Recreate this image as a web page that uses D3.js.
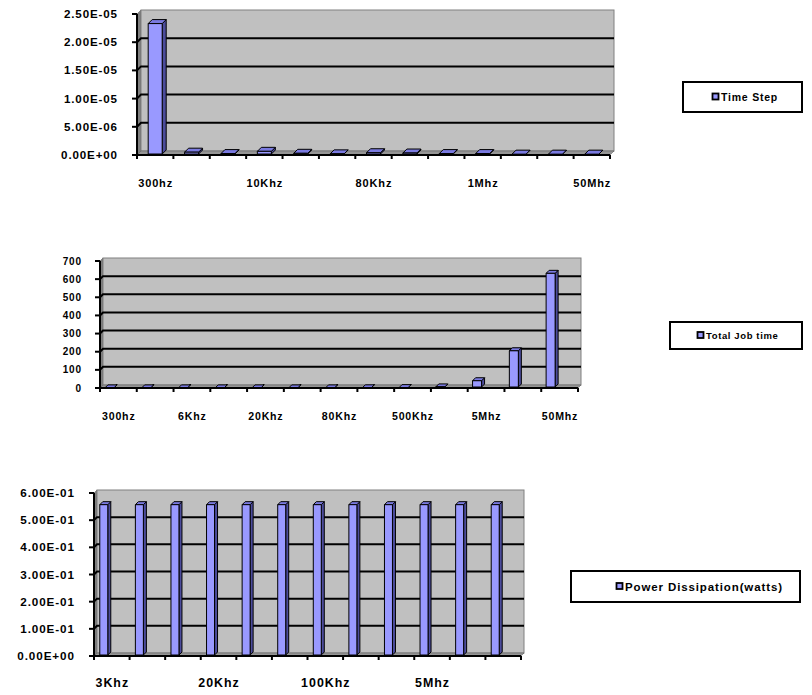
<!DOCTYPE html>
<html><head><meta charset="utf-8">
<script src="https://cdn.jsdelivr.net/npm/d3@7"></script>
<style>body{margin:0;background:#fff}svg{display:block}text{font-family:"Liberation Sans",Arial,sans-serif;font-weight:bold;fill:#000}</style>
</head><body>
<svg id="c" width="812" height="695"></svg>
<script>
// ---- data ----
const timeCategories = ["300hz","3Khz","6Khz","10Khz","20Khz","50Khz","80Khz","100Khz","500Khz","1Mhz","5Mhz","10Mhz","50Mhz"];
const timeStepValues = [2.33e-5, 5.0e-7, 2.5e-7, 6.5e-7, 3.0e-7, 2.0e-7, 4.0e-7, 3.5e-7, 2.5e-7, 2.5e-7, 1.5e-7, 1.5e-7, 1.5e-7];
const timeStepTicks = [0, 5e-6, 1e-5, 1.5e-5, 2e-5, 2.5e-5];
const timeStepTickLabels = ["0.00E+00","5.00E-06","1.00E-05","1.50E-05","2.00E-05","2.50E-05"];
const timeStepShown = ["300hz","10Khz","80Khz","1Mhz","50Mhz"];

const jobTimeValues = [0.5, 0.5, 0.5, 0.5, 0.5, 0.5, 0.5, 0.8, 2, 6, 40, 205, 632];
const jobTimeTicks = [0,100,200,300,400,500,600,700];
const jobTimeTickLabels = ["0","100","200","300","400","500","600","700"];
const jobTimeShown = ["300hz","6Khz","20Khz","80Khz","500Khz","5Mhz","50Mhz"];

const powerCategories = ["3Khz","6Khz","10Khz","20Khz","50Khz","80Khz","100Khz","500Khz","1Mhz","5Mhz","10Mhz","50Mhz"];
const powerValues = [0.557, 0.557, 0.557, 0.557, 0.557, 0.557, 0.557, 0.557, 0.557, 0.557, 0.557, 0.557];
const powerTicks = [0, 0.1, 0.2, 0.3, 0.4, 0.5, 0.6];
const powerTickLabels = ["0.00E+00","1.00E-01","2.00E-01","3.00E-01","4.00E-01","5.00E-01","6.00E-01"];
const powerShown = ["3Khz","20Khz","100Khz","5Mhz"];

// ---- drawing ----
const svg = d3.select("#c");

function chart(o) {
  const g = svg.append("g");
  const x = d3.scaleBand().domain(o.cats).range([o.x0, o.x1]).padding(0);
  const y = d3.scaleLinear().domain([0, o.max]).range([o.yb, o.yt]);
  const dx = o.dx, dy = o.dy;
  const y0 = y(0), ym = y(o.max);
  // left wall
  g.append("polygon").attr("points", [[o.x0,y0],[o.x0,ym],[o.x0+dx,ym+dy],[o.x0+dx,y0+dy]].join(" "))
    .attr("fill", "#7f7f7f").attr("stroke", "#555").attr("stroke-width", 0.5);
  // back wall
  g.append("rect").attr("x", o.x0+dx).attr("y", ym+dy).attr("width", o.x1-o.x0).attr("height", y0-ym)
    .attr("fill", "#c0c0c0").attr("stroke", "#808080").attr("stroke-width", 1);
  // floor
  g.append("polygon").attr("points", [[o.x0,y0],[o.x1,y0],[o.x1+dx,y0+dy],[o.x0+dx,y0+dy]].join(" "))
    .attr("fill", "#969696").attr("stroke", "#555").attr("stroke-width", 0.5);
  // gridlines
  o.ticks.forEach(t => {
    if (t === 0 || t === o.max) return;
    g.append("polyline").attr("points", [[o.x0,y(t)],[o.x0+dx,y(t)+dy],[o.x1+dx,y(t)+dy]].join(" "))
      .attr("fill","none").attr("stroke","#000").attr("stroke-width", 2);
  });
  // bars
  const bw = o.bw, bd = o.bd;
  o.vals.forEach((v, i) => {
    const cx = x(o.cats[i]) + x.bandwidth()/2 + o.off;
    const xl = cx - bw/2, xr = cx + bw/2;
    const yt = y(v), yb0 = y0 - 1;
    const bg = g.append("g").attr("stroke", "#000").attr("stroke-width", 1).attr("stroke-linejoin","round");
    bg.append("polygon").attr("points", [[xr,yb0],[xr,yt],[xr+bd,yt-bd],[xr+bd,yb0-bd]].join(" ")).attr("fill", "#4c4c9c");
    bg.append("polygon").attr("points", [[xl,yt],[xr,yt],[xr+bd,yt-bd],[xl+bd,yt-bd]].join(" ")).attr("fill", "#7a7ae0");
    bg.append("rect").attr("x", xl).attr("y", yt).attr("width", bw).attr("height", Math.max(0, yb0-yt)).attr("fill", "#9999ff");
  });
  // y axis
  g.append("line").attr("x1", o.x0).attr("x2", o.x0).attr("y1", y0).attr("y2", ym).attr("stroke","#000").attr("stroke-width", 2);
  o.ticks.forEach((t, i) => {
    g.append("line").attr("x1", o.x0-5).attr("x2", o.x0).attr("y1", y(t)).attr("y2", y(t)).attr("stroke","#000").attr("stroke-width", 2);
    g.append("text").attr("x", o.x0 - o.lgap + o.yls).attr("y", y(t)).attr("dy","0.35em").attr("text-anchor","end")
      .style("font-size", o.yfs + "px").style("letter-spacing", o.yls + "px").text(o.tickLabels[i]);
  });
  // x axis
  g.append("line").attr("x1", o.x0).attr("x2", o.x1).attr("y1", y0).attr("y2", y0).attr("stroke","#000").attr("stroke-width", 2);
  o.cats.concat([null]).forEach((c) => {
    const xx = c === null ? o.x1 : x(c);
    g.append("line").attr("x1", xx).attr("x2", xx).attr("y1", y0).attr("y2", y0+4).attr("stroke","#000").attr("stroke-width", 2);
  });
  o.shown.forEach(c => {
    g.append("text").attr("x", x(c) + x.bandwidth()/2 + o.xls/2).attr("y", o.xly).attr("dy","0.35em").attr("text-anchor","middle")
      .style("font-size", o.xfs + "px").style("letter-spacing", o.xls + "px").text(c);
  });
  // legend
  const L = o.legend;
  g.append("rect").attr("x", L.x).attr("y", L.y).attr("width", L.w).attr("height", L.h)
    .attr("fill","#fff").attr("stroke","#000").attr("stroke-width", 2);
  g.append("text").attr("x", L.tx).attr("y", L.y + L.h/2).attr("dy","0.35em")
    .style("font-size", L.fs + "px").style("letter-spacing", L.ls + "px").text(L.text);
  g.append("rect").attr("x", L.tx - 8.5).attr("y", L.y + L.h/2 - 3.5).attr("width", 6).attr("height", 6)
    .attr("fill","#9999ff").attr("stroke","#000").attr("stroke-width", 1.8);
}

chart({cats: timeCategories, vals: timeStepValues, max: 2.5e-5, ticks: timeStepTicks, tickLabels: timeStepTickLabels,
  shown: timeStepShown, x0: 137, x1: 610, yb: 155, yt: 14, dx: 4, dy: -4, bw: 14, bd: 4, off: 0,
  lgap: 20, yfs: 11.6, yls: 0.85, xfs: 11, xls: 0.85, xly: 183,
  legend: {x: 683, y: 82, w: 119, h: 30, tx: 721, fs: 10.5, ls: 0.78, text: "Time Step"}});

chart({cats: timeCategories, vals: jobTimeValues, max: 700, ticks: jobTimeTicks, tickLabels: jobTimeTickLabels,
  shown: jobTimeShown, x0: 100, x1: 578, yb: 388, yt: 261, dx: 3, dy: -3, bw: 9, bd: 3, off: -9,
  lgap: 19, yfs: 10, yls: 0.8, xfs: 10.6, xls: 0.8, xly: 416,
  legend: {x: 670, y: 322, w: 132, h: 27, tx: 706, fs: 9.5, ls: 0.62, text: "Total Job time"}});

chart({cats: powerCategories, vals: powerValues, max: 0.6, ticks: powerTicks, tickLabels: powerTickLabels,
  shown: powerShown, x0: 94, x1: 521, yb: 656, yt: 493, dx: 3, dy: -3, bw: 8, bd: 3, off: -8,
  lgap: 20, yfs: 11.7, yls: 0.9, xfs: 12.4, xls: 1.0, xly: 683,
  legend: {x: 571, y: 571, w: 229, h: 31, tx: 625, fs: 11.5, ls: 0.88, text: "Power Dissipation(watts)"}});
</script>
</body></html>
